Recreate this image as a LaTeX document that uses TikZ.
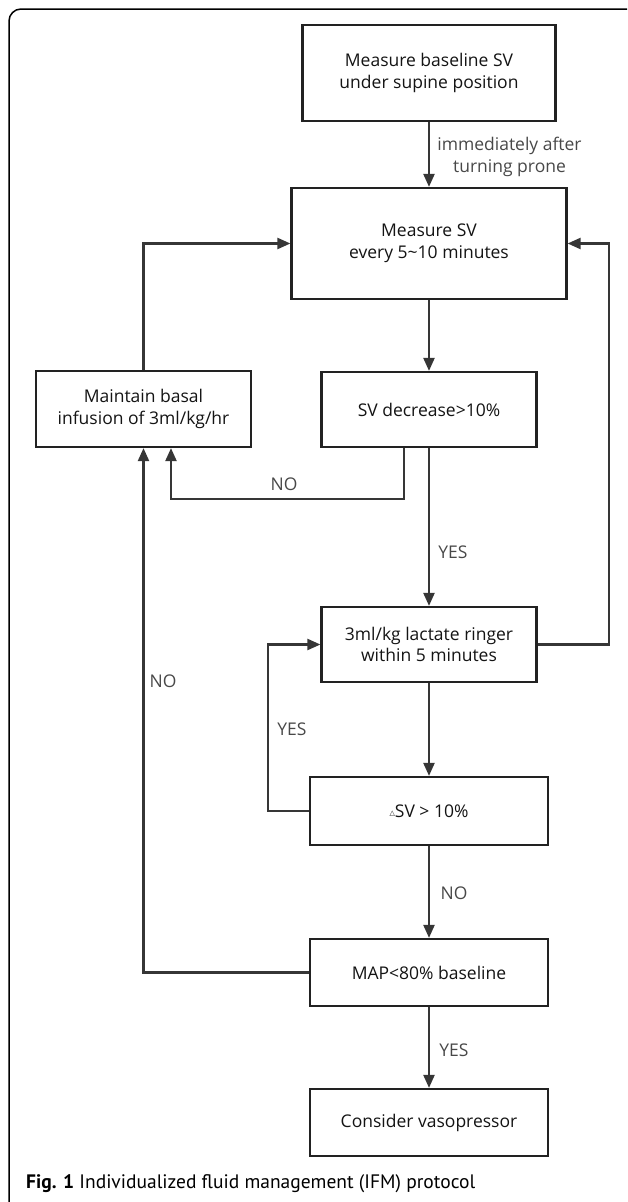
\documentclass[tikz,border=0pt]{standalone}
\usepackage{fontspec}
\setmainfont{Open Sans}
\newfontfamily\capfont{PT Sans}
\newfontfamily\symfont{DejaVu Sans}
\usetikzlibrary{arrows.meta}
\definecolor{linegray}{HTML}{363636}
\definecolor{labgray}{HTML}{484848}
\definecolor{boxline}{HTML}{222222}
\begin{document}
\begin{tikzpicture}[x=1pt,y=-1pt,
  font=\fontsize{17.5}{21.5}\selectfont,
  boxnode/.style={draw=boxline,line width=2.2pt,fill=white,align=center,inner sep=0pt,text=black!92},
  arr/.style={draw=linegray,line width=2.2pt,-{Triangle[length=13pt,width=11pt]}},
  lab/.style={text=labgray,align=center,inner sep=0pt}]
\useasboundingbox (0,0) rectangle (627,1202);
\begin{scope}
\clip (0,0) rectangle (627,1202);
\draw[line width=1.5pt,rounded corners=12pt] (9,9) rectangle (640,1214);
\end{scope}
% boxes
\node[boxnode,minimum width=253pt,minimum height=96pt] (b1) at (429,73) {Measure baseline SV\\under supine position};
\node[boxnode,minimum width=275pt,minimum height=111pt] (b2) at (429,243.5) {Measure SV\\every 5\textasciitilde10 minutes};
\node[boxnode,minimum width=215pt,minimum height=76pt] (bm) at (143.5,409) {Maintain basal\\infusion of 3ml/kg/hr};
\node[boxnode,minimum width=215pt,minimum height=75pt] (b3) at (429,409.5) {SV decrease>10\%};
\node[boxnode,minimum width=215pt,minimum height=75pt] (b4) at (429,644.5) {3ml/kg lactate ringer\\within 5 minutes};
\node[boxnode,minimum width=238pt,minimum height=68pt] (b5) at (429,811) {\raisebox{2pt}{\symfont\fontsize{7}{7}\selectfont △}SV > 10\%};
\node[boxnode,minimum width=238pt,minimum height=67pt] (b6) at (429,972.5) {MAP<80\% baseline};
\node[boxnode,minimum width=238pt,minimum height=67pt] (b7) at (429,1122.5) {Consider vasopressor};
% helper coordinates
\coordinate (p1) at (404,499);
\coordinate (p2) at (171,499);
\coordinate (rr) at (609,0);
\coordinate (yl) at (268,0);
% connectors
\draw[arr] (b1.south) -- (b2.north);
\node[lab] (l1) at (509.5,157) {immediately after\\turning prone};
\draw[arr] (bm.north) |- (b2.west);
\draw[arr] (b2.south) -- (b3.north);
\draw[arr] (b3.south -| p1) -- (p1) -- (p2) -- (bm.south -| p2);
\node[lab] (l2) at (284,484) {NO};
\draw[arr] (b3.south) -- (b4.north);
\node[lab] (l3) at (453,552) {YES};
\draw[arr] (b4.east) -- (b4.east -| rr) |- (b2.east);
\draw[arr] (b4.south) -- (b5.north);
\draw[arr] (b5.west) -- (b5.west -| yl) |- (b4.west);
\node[lab] (l4) at (292,729) {YES};
\draw[arr] (b5.south) -- (b6.north);
\node[lab] (l5) at (454,893) {NO};
\draw[arr] (b6.west) -| (bm.south);
\node[lab] (l6) at (163,681) {NO};
\draw[arr] (b6.south) -- (b7.north);
\node[lab] (l7) at (454,1050) {YES};
% caption
\node[anchor=west,inner sep=0pt,font=\capfont\fontsize{19.5}{22}\selectfont] (cap) at (26,1184) {\textbf{Fig. 1} Individualized fluid management (IFM) protocol};
\end{tikzpicture}
\end{document}
